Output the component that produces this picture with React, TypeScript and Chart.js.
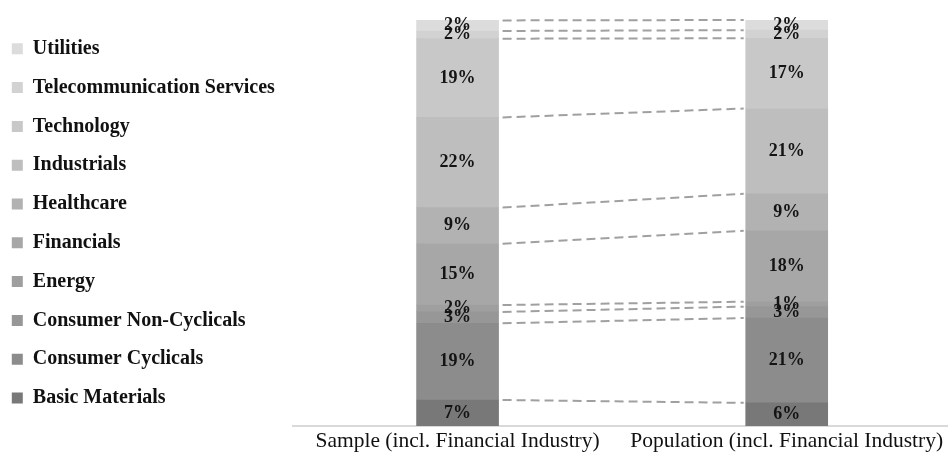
import React, { useEffect, useRef } from "react";
import { Chart, registerables } from "chart.js";

Chart.register(...registerables);

const CATEGORIES = ["Sample (incl. Financial Industry)", "Population (incl. Financial Industry)"];
const SECTORS = [
  "Basic Materials",
  "Consumer Cyclicals",
  "Consumer Non-Cyclicals",
  "Energy",
  "Financials",
  "Healthcare",
  "Industrials",
  "Technology",
  "Telecommunication Services",
  "Utilities",
];
const SAMPLE_VALUES = [6.4, 18.9, 2.8, 1.7, 15.1, 8.9, 22.2, 19.4, 1.9, 2.6];
const POPULATION_VALUES = [5.7, 20.9, 2.8, 1.2, 17.5, 9.1, 21.0, 17.3, 2.0, 2.5];
const SAMPLE_LABELS = ["7%", "19%", "3%", "2%", "15%", "9%", "22%", "19%", "2%", "2%"];
const POPULATION_LABELS = ["6%", "21%", "3%", "1%", "18%", "9%", "21%", "17%", "2%", "2%"];
const COLORS = [
  "#787878",
  "#8c8c8c",
  "#979797",
  "#9f9f9f",
  "#a7a7a7",
  "#b2b2b2",
  "#bebebe",
  "#c8c8c8",
  "#d2d2d2",
  "#dcdcdc",
];

const PAD_LEFT = -7;
const PLOT_LEFT = 293;

const seriesLinesPlugin = {
  id: "seriesLines",
  afterDatasetsDraw(chart: any) {
    const ctx = chart.ctx;
    ctx.save();
    ctx.strokeStyle = "#a0a0a0";
    ctx.lineWidth = 2;
    ctx.setLineDash([9, 5]);
    chart.data.datasets.forEach((_: any, di: number) => {
      const meta = chart.getDatasetMeta(di);
      const a = meta.data[0];
      const b = meta.data[1];
      if (!a || !b) return;
      ctx.beginPath();
      ctx.moveTo(a.x + a.width / 2 + 4, a.y);
      ctx.lineTo(b.x - b.width / 2 - 2, b.y);
      ctx.stroke();
    });
    ctx.restore();
  },
};

const barLabelsPlugin = {
  id: "barLabels",
  afterDatasetsDraw(chart: any) {
    const ctx = chart.ctx;
    ctx.save();
    ctx.font = "bold 18px 'Liberation Serif'";
    ctx.fillStyle = "#141414";
    ctx.textAlign = "center";
    ctx.textBaseline = "middle";
    chart.data.datasets.forEach((ds: any, di: number) => {
      const meta = chart.getDatasetMeta(di);
      meta.data.forEach((el: any, i: number) => {
        const text = ds.valueLabels[i];
        ctx.fillText(text, el.x, (el.y + el.base) / 2);
      });
    });
    ctx.restore();
  },
};

export default function App() {
  const canvasRef = useRef<HTMLCanvasElement | null>(null);

  useEffect(() => {
    const canvas = canvasRef.current;
    if (!canvas) return;
    const datasets = SECTORS.map((name, i) => ({
      label: name,
      data: [
        { x: 0, y: SAMPLE_VALUES[i] },
        { x: 1, y: POPULATION_VALUES[i] },
      ],
      valueLabels: [SAMPLE_LABELS[i], POPULATION_LABELS[i]],
      backgroundColor: COLORS[i],
      borderWidth: 0,
      barThickness: 82,
    }));

    const chart = new Chart(canvas, {
      type: "bar",
      data: { datasets } as any,
      plugins: [seriesLinesPlugin, barLabelsPlugin],
      options: {
        responsive: false,
        animation: false,
        devicePixelRatio: 1,
        layout: { autoPadding: false, padding: { left: PAD_LEFT, top: 20, right: 0, bottom: 0 } },
        plugins: {
          tooltip: { enabled: false },
          legend: {
            position: "left",
            align: "start",
            reverse: true,
            maxWidth: 420,
            labels: {
              boxWidth: 11,
              boxHeight: 11,
              padding: 18.8,
              color: "#111111",
              font: { family: "'Liberation Serif'", size: 20, weight: "bold" },
            },
          },
        },
        scales: {
          x: {
            type: "linear",
            stacked: true,
            offset: false,
            min: -0.5,
            max: 1.49,
            grid: { display: false, drawTicks: false, offset: false },
            border: { display: true, color: "#d9d9d9", width: 2 },
            afterBuildTicks: (s: any) => {
              s.ticks = CATEGORIES.map((_, i) => ({ value: i }));
            },
            afterFit: (s: any) => {
              s.height = 41;
            },
            ticks: {
              autoSkip: false,
              maxRotation: 0,
              minRotation: 0,
              padding: 2,
              color: "#111111",
              font: { family: "'Liberation Serif'", size: 21.5 },
              callback: (v: any) => CATEGORIES[v] ?? "",
            },
          },
          y: {
            stacked: true,
            min: 0,
            max: 100,
            grid: { display: false },
            border: { display: false },
            ticks: { display: false },
            afterFit: (s: any) => {
              const lw = s.chart.legend ? s.chart.legend.width : 0;
              s.width = Math.max(0, PLOT_LEFT - (PAD_LEFT + lw));
            },
          },
        },
      } as any,
    });
    return () => chart.destroy();
  }, []);

  return (
    <div
      style={{
        position: "fixed",
        left: 0,
        top: 0,
        width: 948,
        height: 467,
        background: "#ffffff",
        overflow: "hidden",
      }}
    >
      <canvas ref={canvasRef} width={948} height={467} style={{ display: "block" }} />
    </div>
  );
}
